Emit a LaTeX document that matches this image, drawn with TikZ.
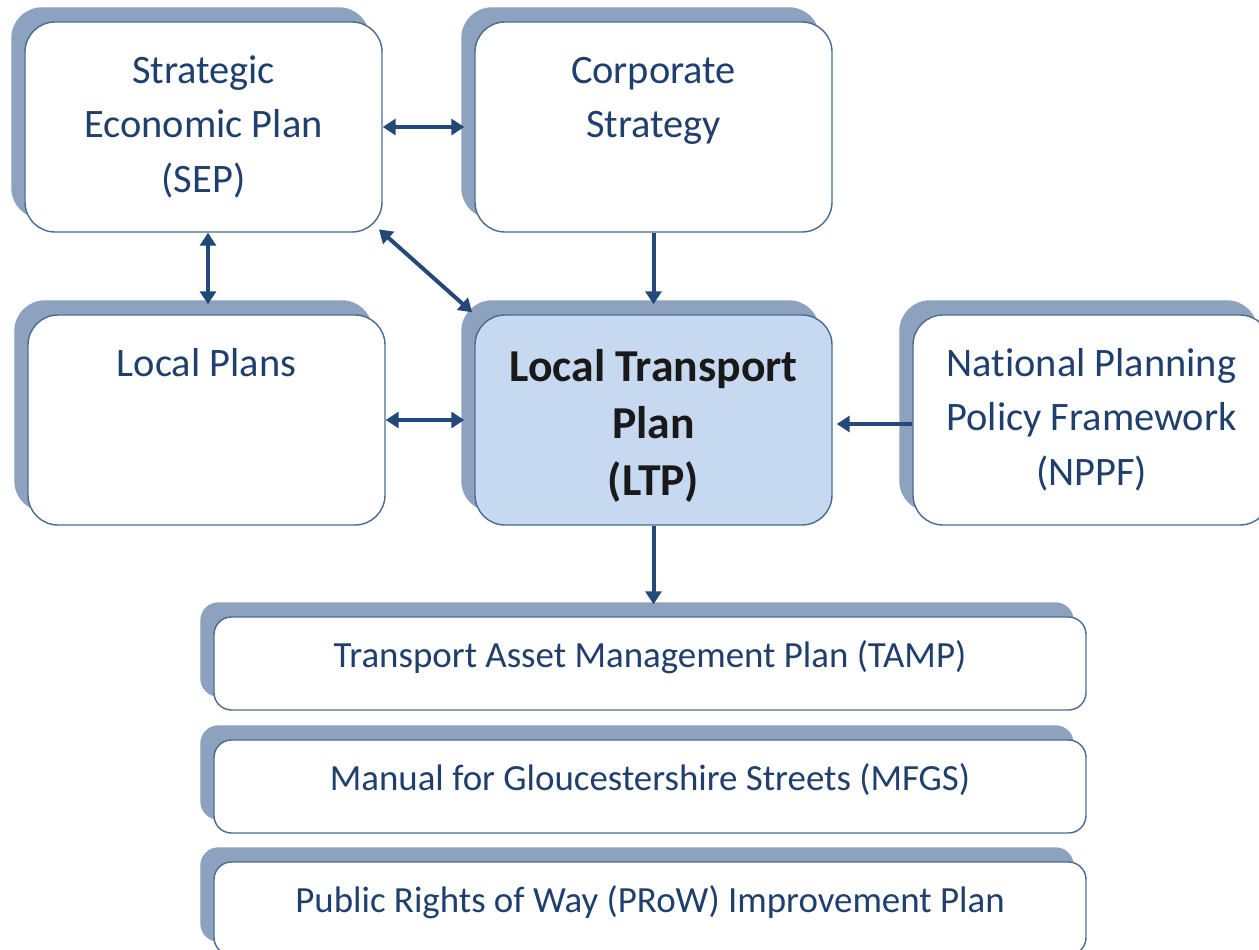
\documentclass[tikz,border=0pt]{standalone}
\usepackage{fontspec}
\setmainfont[RawFeature={-liga;-clig;-calt;-dlig}]{Carlito}
\usetikzlibrary{arrows.meta,shadows,positioning}
\definecolor{txtblue}{HTML}{1F3F6E}
\definecolor{linkblue}{HTML}{23497A}
\definecolor{shadeblue}{HTML}{8DA2BE}
\definecolor{rimblue}{HTML}{4A6A94}
\definecolor{ltpfill}{HTML}{C6D9F1}
\begin{document}
\begin{tikzpicture}[x=0.2mm,y=-0.2mm,%
    box/.style={draw=rimblue,line width=0.8pt,fill=white,rounded corners=6mm,
      minimum width=71.4mm,minimum height=42mm,inner sep=0pt,
      copy shadow={shadow xshift=-2.6mm,shadow yshift=2.8mm,fill=shadeblue,draw=shadeblue}},%
    strip/.style={box,rounded corners=3.5mm,minimum width=174.4mm,minimum height=18.6mm},%
    boxtext/.style={anchor=base,align=center,text=txtblue,inner sep=0pt,
      font=\fontsize{23}{31}\selectfont},%
    striptext/.style={boxtext,font=\fontsize{21}{26}\selectfont},%
    link/.style={draw=linkblue,line width=0.8mm,{Triangle[length=2.6mm,width=3.2mm]}-{Triangle[length=2.6mm,width=3.2mm]}},%
    feed/.style={link,-{Triangle[length=2.6mm,width=3.2mm]}}]
  \useasboundingbox (0,0) rectangle (1259,950);
  % upper row
  \node[box] (sep) at (203.5,127) {};
  \node[box] (corp) at (653.5,127) {};
  % middle row
  \node[box] (loc) at (206.5,420) {};
  \node[box,fill=ltpfill] (ltp) at (653.5,420) {};
  \node[box] (nppf) at (1091.5,420) {};
  % lower strips
  \node[strip] (tamp) at (650,663.5) {};
  \node[strip] (mfgs) at (650,786.5) {};
  \node[strip] (prow) at (650,908.5) {};
  % texts (base = last line)
  \node[boxtext] (sept) at ([yshift={-12.4mm-62pt}]sep.north) {Strategic\\Economic Plan\\(SEP)};
  \node[boxtext] (corpt) at ([yshift={-12.4mm-31pt}]corp.north) {Corporate\\Strategy};
  \node[boxtext] (loct) at ([yshift=-12.4mm]loc.north) {Local Plans};
  \node[boxtext,font=\bfseries\fontsize{26}{32.6}\selectfont,text=black!90] (ltpt)
    at ([yshift={-13.4mm-65.2pt}]ltp.north) {Local Transport\\Plan\\(LTP)};
  \node[boxtext] (nppft) at ([yshift={-12.4mm-62pt}]nppf.north) {National Planning\\Policy Framework\\(NPPF)};
  \node[striptext] (tampt) at ([yshift=-10.2mm]tamp.north) {Transport Asset Management Plan (TAMP)};
  \node[striptext] (mfgst) at ([yshift=-10.2mm]mfgs.north) {Manual for Gloucestershire Streets (MFGS)};
  \node[striptext] (prowt) at ([yshift=-10.2mm]prow.north) {Public Rights of Way (PRoW) Improvement Plan};
  % connectors
  \draw[link,shorten >=2mm] (sep) -- (corp);
  \draw[link,shorten >=2mm] ([xshift=0.9mm]sep.south) -- ([xshift=0.9mm]sep.south |- loc.north);
  \draw[link,shorten <=-1mm,shorten >=0.6mm] (sep.south east) -- (ltp.north west);
  \draw[feed,shorten >=2mm] (corp) -- (ltp);
  \draw[link,shorten >=2mm] (loc) -- (ltp);
  \draw[feed,shorten >=0.8mm] ([yshift=-0.8mm]nppf.west) -- ([yshift=-0.8mm]ltp.east);
  \draw[feed,shorten >=2.4mm] (ltp.south) -- (ltp.south |- tamp.north);
\end{tikzpicture}
\end{document}
